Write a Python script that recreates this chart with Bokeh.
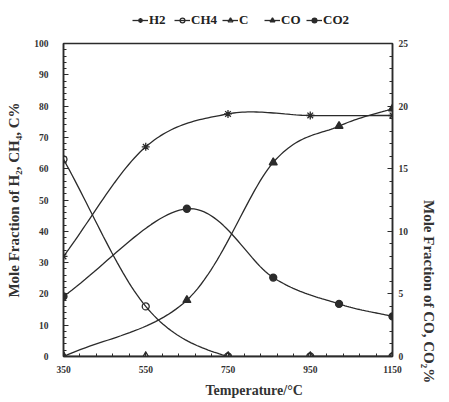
import numpy as np
from bokeh.plotting import figure
from bokeh.layouts import column
from bokeh.models import (Range1d, LinearAxis, FixedTicker, Legend, LegendItem)
from bokeh.embed import file_html
from bokeh.resources import INLINE

# ---- data ----
temps = [350, 550, 750, 950, 1150]
h2 = [32, 67, 77.5, 77, 77]
ch4 = [63, 16, 0, 0, 0]
c = [0, 0, 0, 0, 0]
co_temps = [350, 650, 860, 1020, 1150]
co = [0, 4.5, 15.5, 18.4, 19.8]
co2 = [4.8, 11.8, 6.3, 4.2, 3.2]

x_ticks = [350, 550, 750, 950, 1150]
left_ticks = [0, 10, 20, 30, 40, 50, 60, 70, 80, 90, 100]
right_ticks = [0, 5, 10, 15, 20, 25]

FONT = "Liberation Serif"
INK = "#2b2b2b"


def smooth(xs, ys, n=30):
    xs = np.asarray(xs, float)
    ys = np.asarray(ys, float)
    px = np.concatenate([[2 * xs[0] - xs[1]], xs, [2 * xs[-1] - xs[-2]]])
    py = np.concatenate([[2 * ys[0] - ys[1]], ys, [2 * ys[-1] - ys[-2]]])
    ox, oy = [], []
    for i in range(1, len(px) - 2):
        p0 = np.array([px[i], py[i]])
        p3 = np.array([px[i + 1], py[i + 1]])
        p1 = p0 + (np.array([px[i + 1], py[i + 1]]) - np.array([px[i - 1], py[i - 1]])) / 6
        p2 = p3 - (np.array([px[i + 2], py[i + 2]]) - np.array([px[i], py[i]])) / 6
        t = np.linspace(0, 1, n)[:, None]
        b = (1 - t) ** 3 * p0 + 3 * (1 - t) ** 2 * t * p1 + 3 * (1 - t) * t ** 2 * p2 + t ** 3 * p3
        ox.extend(b[:, 0]); oy.extend(b[:, 1])
    return ox, oy


# ---------- main chart ----------
p = figure(width=449, height=366, output_backend="svg", toolbar_location=None,
           x_range=Range1d(350, 1150), y_range=Range1d(0, 100),
           min_border_left=63, min_border_right=57, min_border_top=7, min_border_bottom=46,
           title="Temperature/°C", title_location="below")
p.extra_y_ranges = {"right": Range1d(0, 25)}
p.grid.visible = False
p.outline_line_color = INK
p.outline_line_width = 1.5
p.background_fill_color = "white"
p.border_fill_color = "white"
p.title.text_font = FONT
p.title.text_font_style = "bold"
p.title.text_font_size = "14px"
p.title.text_color = "#333333"
p.title.align = "left"
p.title.offset = 142
p.title.standoff = 10


def style_axis(ax):
    ax.axis_line_color = INK
    ax.axis_line_width = 1.5
    ax.major_tick_in = 5
    ax.major_tick_out = 0
    ax.minor_tick_in = 3
    ax.minor_tick_out = 0
    ax.major_tick_line_color = INK
    ax.minor_tick_line_color = INK
    ax.major_label_text_font = FONT
    ax.major_label_text_font_style = "bold"
    ax.major_label_text_font_size = "9.5px"
    ax.major_label_text_color = "#333333"
    ax.axis_label_text_font = FONT
    ax.axis_label_text_font_style = "bold"
    ax.axis_label_text_font_size = "15px"
    ax.axis_label_text_color = "#333333"


xa = p.xaxis[0]
xa.ticker = FixedTicker(ticks=x_ticks, minor_ticks=list(range(350, 1151, 40)))
style_axis(xa)
xa.major_label_standoff = 9

ya = p.yaxis[0]
ya.ticker = FixedTicker(ticks=left_ticks, minor_ticks=list(range(0, 101, 2)))
ya.axis_label = "Mole Fraction of H₂, CH₄, C%"
style_axis(ya)
ya.major_label_standoff = 15
ya.axis_label_standoff = 9

ra = LinearAxis(y_range_name="right",
                ticker=FixedTicker(ticks=right_ticks, minor_ticks=list(range(0, 26, 1))),
                axis_label="Mole Fraction of CO, CO₂%")
style_axis(ra)
ra.major_label_standoff = 6
ra.axis_label_standoff = 18
ra.axis_label_orientation = -np.pi / 2
p.add_layout(ra, "right")

styles = [
    ("H2", "asterisk", None, 8),
    ("CH4", "circle", None, 7),
    ("C", "triangle", None, 8),
    ("CO", "triangle", INK, 8),
    ("CO2", "circle", INK, 7),
]
series_x = [temps, temps, temps, co_temps, co_temps]
series_y = [h2, ch4, c, co, co2]
series_r = ["default", "default", "default", "right", "right"]

for (name, marker, fill, size), xs, ys, yr in zip(styles, series_x, series_y, series_r):
    sx, sy = smooth(xs, ys)
    p.line(sx, sy, line_color=INK, line_width=1.3, y_range_name=yr)
    p.scatter(xs, ys, marker=marker, size=size, line_color=INK, line_width=1.3,
              fill_color=fill, y_range_name=yr)

# ---------- legend strip above (its own renderers lie outside its empty frame) ----------
lg = figure(width=449, height=36, output_backend="svg", toolbar_location=None,
            x_range=Range1d(0, 1), y_range=Range1d(-1, 0),
            min_border_left=0, min_border_right=0, min_border_top=2, min_border_bottom=0)
lg.axis.visible = False
lg.grid.visible = False
lg.outline_line_color = None
items = []
for (name, marker, fill, size), xs, ys in zip(styles, series_x, series_y):
    ln = lg.line(xs, ys, line_color=INK, line_width=1.3)
    sc = lg.scatter(xs, ys, marker=marker, size=size, line_color=INK, line_width=1.3,
                    fill_color=fill)
    items.append(LegendItem(label=name, renderers=[ln, sc], index=0))

leg = Legend(items=items, orientation="horizontal", location=(67, 6),
             label_text_font=FONT, label_text_font_style="bold", label_text_font_size="13px",
             label_text_color="#222222", glyph_width=16, glyph_height=12,
             spacing=5, padding=2, margin=0, label_standoff=1, border_line_alpha=0,
             background_fill_alpha=0)
lg.add_layout(leg, "center")

layout = column(lg, p, spacing=0)
open("out.html", "w").write(file_html(layout, INLINE))
